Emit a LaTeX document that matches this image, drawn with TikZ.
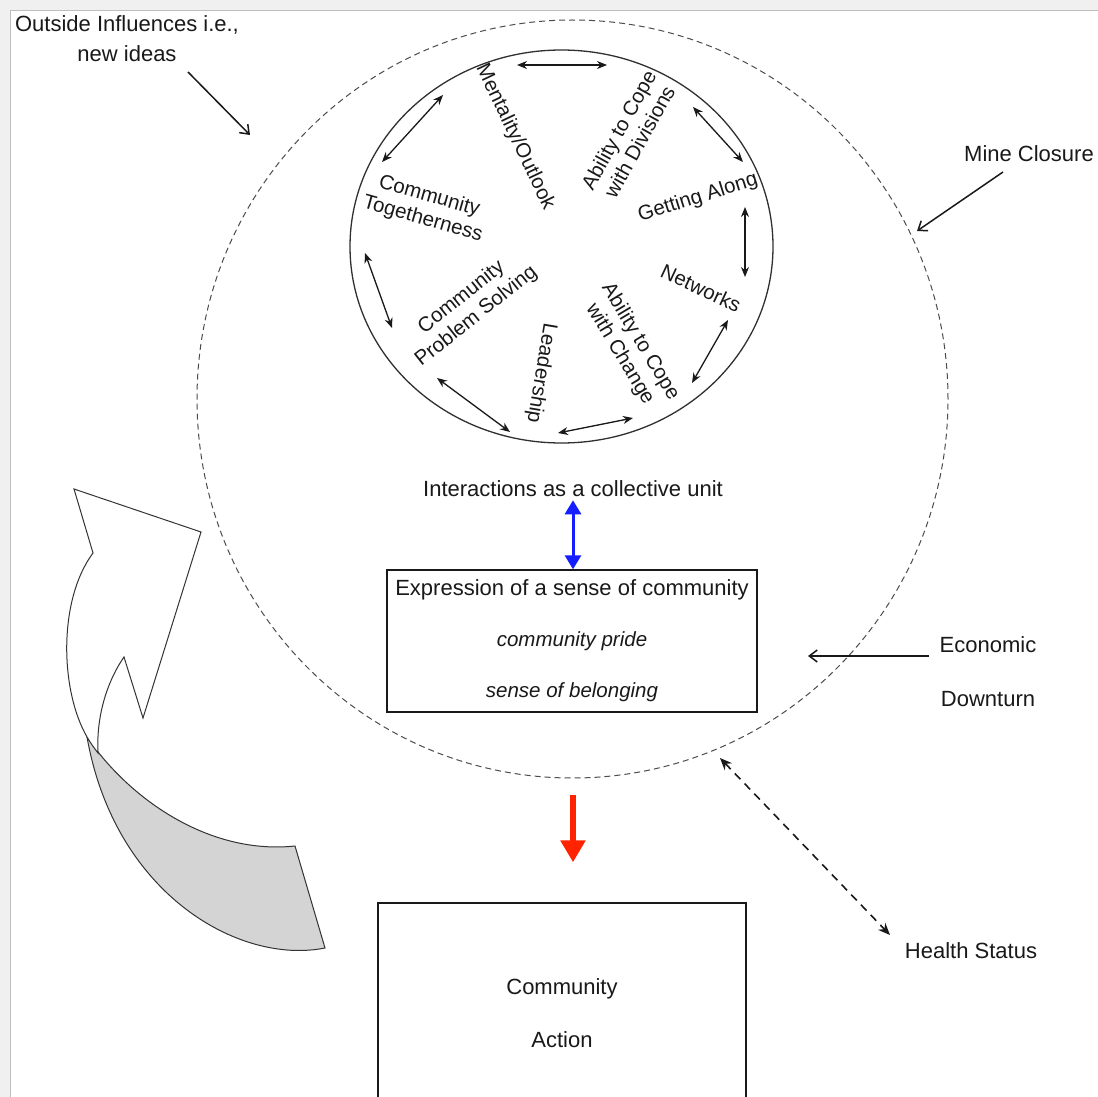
\documentclass[tikz,border=0pt]{standalone}
\usepackage{fontspec}
\setmainfont{Liberation Sans}
\usetikzlibrary{arrows.meta}
\definecolor{bandgray}{RGB}{240,240,240}
\definecolor{bandline}{RGB}{190,190,190}
\definecolor{shadegray}{RGB}{212,212,212}
\definecolor{ink}{RGB}{25,25,25}
\definecolor{bluearr}{RGB}{20,30,255}
\definecolor{redarr}{RGB}{255,35,0}
\tikzset{
  outlbl/.style={font=\fontsize{22}{30}\selectfont, inner sep=0pt, align=center, text=ink},
  inlbl/.style={font=\fontsize{20.5}{23.8}\selectfont, inner sep=0pt, align=center, text=ink},
  dblarrow/.style={{Stealth[length=10pt,width=8pt]}-{Stealth[length=10pt,width=8pt]}, line width=1.3pt, draw=ink},
  pointer/.style={-{Straight Barb[length=8pt,width=12pt]}, line width=1.5pt, draw=ink},
  boxstyle/.style={draw=ink, line width=1.4pt, fill=white, inner sep=0pt, align=center, text=ink},
  dashcirc/.style={draw=black!70, line width=1pt, dash pattern=on 6pt off 4pt},
  shapeline/.style={draw=black!80, line width=1pt},
}
\begin{document}
\begin{tikzpicture}[x=1pt,y=-1pt]
\clip (0,0) rectangle (1098,1097);
\fill[bandgray] (0,0) rectangle (1098,1097);
\fill[white] (10.5,10.5) rectangle (1098,1097);
\draw[bandline, line width=1pt] (10.5,1097) -- (10.5,10.5) -- (1098,10.5);

% curved block arrow on the left
\filldraw[shapeline, fill=shadegray] (87,737) .. controls (130,800) and (210,855) .. (295,846)
   -- (325,948) .. controls (240,965) and (115,895) .. (87,737) -- cycle;
\filldraw[shapeline, fill=white] (74,489) -- (201,532) -- (143,718) -- (124,657)
   .. controls (108,680) and (96,715) .. (98,753)
   .. controls (94,748) and (90,742) .. (87,737)
   .. controls (60,690) and (58,600) .. (93,553) -- cycle;

% circles
\draw[dashcirc] (572.5,399) ellipse [x radius=375.5pt, y radius=379pt];
\draw[draw=ink!90, line width=1.3pt] (561.5,246.5) ellipse [x radius=211.5pt, y radius=196.5pt];

% inner labels
\node[inlbl, rotate=-64.5] (ment) at (515,137) {Mentality/Outlook};
\node[inlbl, rotate=61] (acd) at (629,136) {Ability to Cope\\with Divisions};
\node[inlbl, rotate=17.5] (ga) at (698,198) {Getting Along};
\node[inlbl, rotate=-25] (net) at (701,288) {Networks};
\node[inlbl, rotate=-59] (acc) at (630,348) {Ability to Cope\\with Change};
\node[inlbl, rotate=-99.5] (lead) at (541,373) {Leadership};
\node[inlbl, rotate=38.5] (cps) at (469,307) {Community\\Problem Solving};
\node[inlbl, rotate=-15.8] (ct) at (426,208) {Community\\Togetherness};

% inner double arrows
\coordinate (a1s) at (517,65);  \coordinate (a1e) at (607,65);
\coordinate (a2s) at (693,107); \coordinate (a2e) at (743,162);
\coordinate (a3s) at (745,207); \coordinate (a3e) at (745,277);
\coordinate (a4s) at (728,320); \coordinate (a4e) at (692,383);
\coordinate (a5s) at (558,433); \coordinate (a5e) at (633,418);
\coordinate (a6s) at (437,378); \coordinate (a6e) at (510,432);
\coordinate (a7s) at (365,253); \coordinate (a7e) at (392,328);
\coordinate (a8s) at (443,95);  \coordinate (a8e) at (382,162);
\foreach \i in {1,...,8} { \draw[dblarrow] (a\i s) -- (a\i e); }

% central column
\node[outlbl] (inter) at (573,489) {Interactions as a collective unit};
\node[boxstyle, font=\fontsize{22}{51}\selectfont, minimum width=370pt, minimum height=142pt] (box1) at (572,641)
  {Expression of a sense of community\\{\fontsize{20.5}{51}\selectfont\itshape community pride}\\{\fontsize{20.5}{51}\selectfont\itshape sense of belonging}};
\draw[{Triangle[length=14pt,width=16pt]}-{Triangle[length=14pt,width=16pt]}, line width=3pt, draw=bluearr, fill=bluearr, shorten <=3pt] (inter.south) -- (inter.south |- box1.north);

\node[boxstyle, font=\fontsize{22}{53}\selectfont, minimum width=368pt, minimum height=221pt] (box2) at (562,1013.5) {Community\\Action};
\draw[-{Triangle[length=22pt,width=24pt]}, line width=6pt, draw=redarr, fill=redarr, shorten <=82pt, shorten >=40pt] (inter.south |- box1.south) -- (inter.south |- box2.north);

% outer labels
\node[outlbl] (outside) at (127,39) {Outside Influences i.e.,\\new ideas};
\coordinate (oiS) at (188,72); \coordinate (oiE) at (250,135);
\draw[pointer] (oiS) -- (oiE);

\node[outlbl] (mine) at (1029,154) {Mine Closure};
\coordinate (mcS) at (1003,172); \coordinate (mcE) at (917,231);
\draw[pointer] (mcS) -- (mcE);

\node[outlbl, font=\fontsize{22}{54}\selectfont] (econ) at (988,672) {Economic\\Downturn};
\coordinate (edS) at (929,656); \coordinate (edE) at (808,656);
\draw[pointer] (edS) -- (edE);

\node[outlbl] (health) at (971,951) {Health Status};
\coordinate (hsS) at (720,758); \coordinate (hsE) at (890,935);
\draw[{Stealth[length=12pt,width=10pt]}-{Stealth[length=12pt,width=10pt]}, line width=1.6pt, draw=ink, dash pattern=on 8pt off 6pt] (hsS) -- (hsE);
\end{tikzpicture}
\end{document}
